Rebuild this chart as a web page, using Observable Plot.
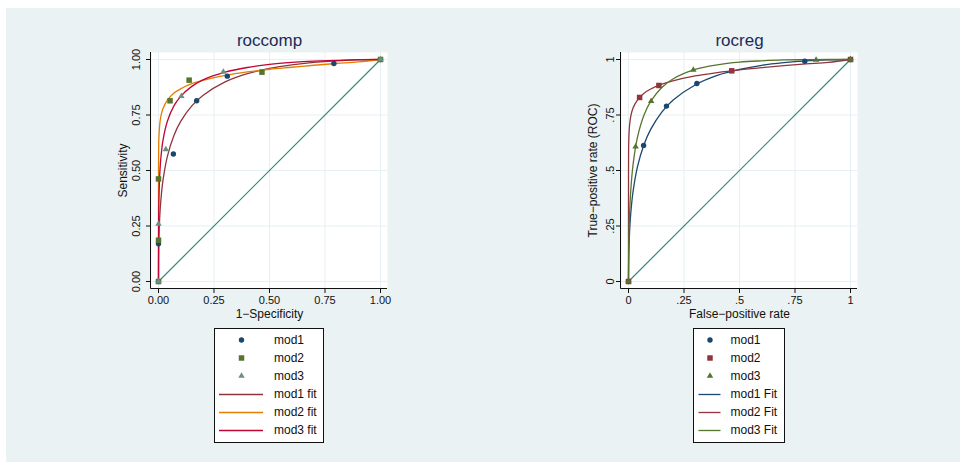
<!DOCTYPE html>
<html><head><meta charset="utf-8">
<script src="https://cdn.jsdelivr.net/npm/d3@7"></script>
<script src="https://cdn.jsdelivr.net/npm/@observablehq/plot@0.6"></script>
<style>
body{margin:0;background:#fff;font-family:"Liberation Sans",Arial,sans-serif;}
#bg{position:absolute;left:6px;top:8px;width:954px;height:454px;background:#eaf2f3;}
.panel{position:absolute;top:20px;}
.legend{position:absolute;top:328px;}
</style></head><body>
<div id="bg"></div>
<div id="left" class="panel" style="left:100px"></div>
<div id="right" class="panel" style="left:570px"></div>
<div id="legL" class="legend" style="left:214px"></div>
<div id="legR" class="legend" style="left:693px"></div>
<script>
// ---- data ----
const ticks = [0, 0.25, 0.5, 0.75, 1];
const leftTickLabels = ["0.00", "0.25", "0.50", "0.75", "1.00"];
const rightTickLabels = ["0", ".25", ".5", ".75", "1"];
const diagonal = [0, 1];

// roccomp empirical points
const lMod1Fpr = [0, 0, 0.067, 0.172, 0.31, 0.79, 1];
const lMod1Tpr = [0, 0.17, 0.574, 0.814, 0.925, 0.982, 1];
const lMod2Fpr = [0, 0, 0, 0.052, 0.138, 0.466, 1];
const lMod2Tpr = [0, 0.186, 0.462, 0.814, 0.907, 0.943, 1];
const lMod3Fpr = [0, 0, 0.033, 0.103, 0.292, 1];
const lMod3Tpr = [0, 0.259, 0.595, 0.835, 0.944, 1];

// rocreg points
const rMod1Fpr = [0, 0.068, 0.171, 0.308, 0.794, 1];
const rMod1Tpr = [0, 0.613, 0.79, 0.892, 0.992, 1];
const rMod2Fpr = [0, 0.05, 0.137, 0.465, 1];
const rMod2Tpr = [0, 0.829, 0.883, 0.949, 1];
const rMod3Fpr = [0, 0.032, 0.102, 0.292, 0.845, 1];
const rMod3Tpr = [0, 0.607, 0.812, 0.953, 0.998, 1];

// fitted curves, read at these false-positive rates
const fitFpr = [0, 0.000001, 0.0001, 0.0005, 0.001, 0.002, 0.005, 0.01, 0.02, 0.04, 0.07, 0.1, 0.15, 0.2, 0.3, 0.4, 0.5, 0.6, 0.7, 0.8, 0.9, 1];
const lMod1Fit = [0, 0.005, 0.052, 0.107, 0.145, 0.194, 0.278, 0.358, 0.454, 0.564, 0.659, 0.721, 0.791, 0.838, 0.899, 0.936, 0.960, 0.976, 0.987, 0.994, 0.998, 1];
const lMod2Fit = [0, 0.321, 0.503, 0.580, 0.616, 0.652, 0.701, 0.740, 0.778, 0.817, 0.849, 0.868, 0.891, 0.906, 0.928, 0.944, 0.956, 0.965, 0.974, 0.982, 0.989, 1];
const lMod3Fit = [0, 0.033, 0.158, 0.255, 0.310, 0.373, 0.469, 0.549, 0.635, 0.722, 0.792, 0.834, 0.879, 0.908, 0.943, 0.964, 0.978, 0.987, 0.993, 0.996, 0.999, 1];
const rMod1Fit = [0, 0.002, 0.033, 0.077, 0.108, 0.151, 0.228, 0.305, 0.401, 0.515, 0.617, 0.685, 0.763, 0.816, 0.885, 0.928, 0.955, 0.974, 0.986, 0.994, 0.998, 1];
const rMod2Fit = [0, 0.339, 0.516, 0.590, 0.624, 0.659, 0.706, 0.743, 0.780, 0.817, 0.848, 0.867, 0.889, 0.904, 0.926, 0.941, 0.953, 0.963, 0.972, 0.980, 0.987, 1];
const rMod3Fit = [0, 0.002, 0.042, 0.103, 0.146, 0.205, 0.308, 0.407, 0.522, 0.648, 0.750, 0.811, 0.874, 0.912, 0.955, 0.976, 0.988, 0.994, 0.998, 0.999, 1, 1];

// ---- styles ----
const C = {navy:"#1a476f", maroon:"#90353b", forest:"#55752f", orange:"#e37e00", teal:"#6e8e84", cranberry:"#c10534", diag:"#2f8a78", grid:"#e6eff1", title:"#1e2b57"};
const R = {circle:2.7, square:3.1, triangle:2.4};

function pts(fpr, tpr){ return fpr.map((x,i)=>({x, y:tpr[i]})); }

function panel(o){
  const fmt = d => o.tickLabels[ticks.indexOf(d)];
  const W = 300, H = 308, mL = 51, mR = 13, mT = 32, mB = 40;
  const svg = Plot.plot({
    width: W, height: H, marginLeft: mL, marginRight: mR, marginTop: mT, marginBottom: mB,
    style: {background:"transparent", fontFamily:"Liberation Sans, Arial, sans-serif", fontSize:"11px", color:"#111", overflow:"visible"},
    x: {domain:[0,1], inset:7},
    y: {domain:[0,1], inset:7},
    marks: [
      Plot.frame({fill:"white", stroke:"none"}),
      Plot.gridX({ticks, stroke:C.grid, strokeOpacity:1}),
      Plot.gridY({ticks, stroke:C.grid, strokeOpacity:1}),
      Plot.line(diagonal, {x:d=>d, y:d=>d, stroke:C.diag, strokeWidth:1.2}),
      ...o.fits.map(f => Plot.line(pts(fitFpr, f.tpr), {x:"x", y:"y", stroke:f.color, strokeWidth:1.3, curve:"catmull-rom"})),
      ...o.series.map(s => Plot.dot(pts(s.fpr, s.tpr), {x:"x", y:"y", symbol:s.symbol, r:R[s.symbol], fill:s.color, stroke:"none"})),
      Plot.axisX({ticks, tickSize:5, tickPadding:3, tickFormat:fmt, label:null, fontSize:11}),
      Plot.axisY({ticks, tickSize:5, tickFormat:()=>"", label:null}),
      Plot.text(ticks, {y:d=>d, frameAnchor:"left", dx:o.yTickDx, rotate:-90, text:fmt, lineAnchor:"bottom", textAnchor:"middle", fontSize:11}),
      Plot.text([o.yLabel], {frameAnchor:"left", dx:-28.5, rotate:-90, text:d=>d, lineAnchor:"middle", textAnchor:"middle", fontSize:12}),
      Plot.text([o.xLabel], {frameAnchor:"bottom", dy:26, text:d=>d, lineAnchor:"middle", textAnchor:"middle", fontSize:12}),
      Plot.text([o.title], {frameAnchor:"top", dy:-12, text:d=>d, lineAnchor:"middle", textAnchor:"middle", fontSize:17, fill:C.title})
    ]
  });
  const g = d3.select(svg).append("g").attr("stroke","#111").attr("stroke-width",1);
  g.append("line").attr("x1",mL-0.5).attr("x2",mL-0.5).attr("y1",mT).attr("y2",H-mB+0.5);
  g.append("line").attr("x1",mL-0.5).attr("x2",W-mR).attr("y1",H-mB+0.5).attr("y2",H-mB+0.5);
  return svg;
}

document.getElementById("left").appendChild(panel({
  title:"roccomp", xLabel:"1\u2212Specificity", yLabel:"Sensitivity", tickLabels:leftTickLabels, yTickDx:-11.5,
  fits:[{tpr:lMod1Fit, color:C.maroon},{tpr:lMod2Fit, color:C.orange},{tpr:lMod3Fit, color:C.cranberry}],
  series:[{fpr:lMod1Fpr,tpr:lMod1Tpr,symbol:"circle",color:C.navy},{fpr:lMod2Fpr,tpr:lMod2Tpr,symbol:"square",color:C.forest},{fpr:lMod3Fpr,tpr:lMod3Tpr,symbol:"triangle",color:C.teal}]
}));
document.getElementById("right").appendChild(panel({
  title:"rocreg", xLabel:"False\u2212positive rate", yLabel:"True\u2212positive rate (ROC)", tickLabels:rightTickLabels, yTickDx:-7.5,
  fits:[{tpr:rMod1Fit, color:C.navy},{tpr:rMod2Fit, color:C.maroon},{tpr:rMod3Fit, color:C.forest}],
  series:[{fpr:rMod1Fpr,tpr:rMod1Tpr,symbol:"circle",color:C.navy},{fpr:rMod2Fpr,tpr:rMod2Tpr,symbol:"square",color:C.maroon},{fpr:rMod3Fpr,tpr:rMod3Tpr,symbol:"triangle",color:C.forest}]
}));

// ---- legends ----
function legend(el, w, symX, lineX1, lineX2, textX, items){
  const svg = d3.select(el).append("svg").attr("width", w).attr("height", 115)
    .style("font-family","Liberation Sans, Arial, sans-serif").style("font-size","12px").style("display","block");
  svg.append("rect").attr("x",0.5).attr("y",0.5).attr("width",w-1).attr("height",114).attr("fill","white").attr("stroke","#111");
  items.forEach((it,i)=>{
    const y = 12 + 18*i;
    if (it.symbol) {
      const type = {circle:d3.symbolCircle, square:d3.symbolSquare, triangle:d3.symbolTriangle}[it.symbol];
      svg.append("path").attr("d", d3.symbol(type, Math.PI*R[it.symbol]**2)()).attr("transform",`translate(${symX},${y})`).attr("fill",it.color);
    } else {
      svg.append("line").attr("x1",lineX1).attr("x2",lineX2).attr("y1",y+0.5).attr("y2",y+0.5).attr("stroke",it.color).attr("stroke-width",1.3);
    }
    svg.append("text").attr("x",textX).attr("y",y).attr("dy","0.35em").attr("fill","#111").text(it.label);
  });
}
legend(document.getElementById("legL"), 110, 27.5, 5, 49, 60, [
  {label:"mod1", symbol:"circle", color:C.navy},
  {label:"mod2", symbol:"square", color:C.forest},
  {label:"mod3", symbol:"triangle", color:C.teal},
  {label:"mod1 fit", color:C.maroon},
  {label:"mod2 fit", color:C.orange},
  {label:"mod3 fit", color:C.cranberry}
]);
legend(document.getElementById("legR"), 92, 17, 5.5, 27.5, 37.5, [
  {label:"mod1", symbol:"circle", color:C.navy},
  {label:"mod2", symbol:"square", color:C.maroon},
  {label:"mod3", symbol:"triangle", color:C.forest},
  {label:"mod1 Fit", color:C.navy},
  {label:"mod2 Fit", color:C.maroon},
  {label:"mod3 Fit", color:C.forest}
]);
</script>
</body></html>
